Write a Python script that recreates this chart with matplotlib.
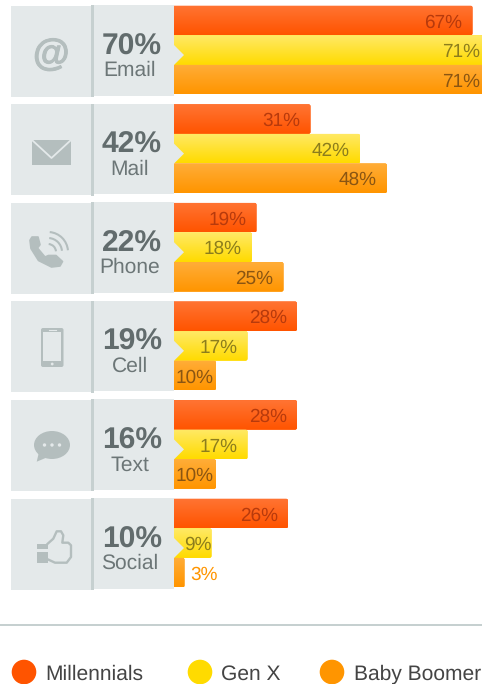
#!/usr/bin/env python
from matplotlib import pyplot as plt
from matplotlib import patheffects
from matplotlib.colors import LinearSegmentedColormap
from matplotlib.patches import Arc, Circle, Ellipse, FancyBboxPatch, Polygon, Rectangle
import numpy as np

plt.rcParams['font.family'] = ['Liberation Sans', 'DejaVu Sans']
plt.rcParams['text.hinting'] = 'no_hinting'
plt.rcParams['text.hinting_factor'] = 1

channels = ['Email', 'Mail', 'Phone', 'Cell', 'Text', 'Social']
totals = [70, 42, 22, 19, 16, 10]
millennials = [67, 31, 19, 28, 28, 26]
gen_x = [71, 42, 18, 17, 17, 9]
boomers = [71, 48, 25, 10, 10, 3]
series_names = ['Millennials', 'Gen X', 'Baby Boomer']

reds = ('#ff7433', '#ff5400')
yellows = ('#ffe966', '#ffdb00')
oranges = ('#ffad38', '#ff9500')
label_colors = ['#b73a0c', '#8c7d1c', '#8a5512']

PANEL = '#e4e9ea'
RULE = '#c6d0d0'
ICON = '#b4bebe'
ROW = 98.6
BAR_H = 0.3

W, H = 482, 684
fig = plt.figure(figsize=(W / 100, H / 100), dpi=100, facecolor='white')


def px_axes(left, width, zorder):
	a = fig.add_axes([left / W, 0, width / W, 1], zorder=zorder)
	a.axis('off')
	return a


# bars: 4.5 px per percent, zero sits just behind the panel edge
bar_ax = px_axes(174, 308, 1)
over = px_axes(0, W, 2)
over.patch.set_alpha(0)
over.set_xlim(0, W)
over.set_ylim(H, 0)
over.set_aspect('auto')

xlim = ((174 - 171) / 4.5, (482 - 171) / 4.5)
ylim = ((H - 5.7) / ROW, -5.7 / ROW)
ry = 2 / ROW
rx = 2 / 4.5

for j, (vals, cols) in enumerate(zip([millennials, gen_x, boomers], [reds, yellows, oranges])):
	ys = np.arange(len(channels)) + j * BAR_H
	bars = bar_ax.barh(ys, vals, height=BAR_H, align='edge', color=cols[1], linewidth=0)
	cmap = LinearSegmentedColormap.from_list('g', cols)
	for bar, v, y in zip(bars, vals, ys):
		clip = FancyBboxPatch((-2, y), v + 2, BAR_H, boxstyle='round,pad=0,rounding_size=%f' % rx,
							mutation_aspect=ry / rx, transform=bar_ax.transData)
		bar.set_clip_path(clip)
		im = bar_ax.imshow(np.linspace(0, 1, 32).reshape(-1, 1), cmap=cmap, aspect='auto', zorder=2,
						extent=(0, v, y + BAR_H, y), interpolation='bilinear')
		im.set_clip_path(clip)
		# labels sit 10 px inside the bar end unless the bar is too short
		color = label_colors[j]
		if v <= 3:
			anchor, off, color = 0.667, 16, oranges[1]
			ha = 'left'
		elif v <= 9:
			anchor, off, ha = v, 0, 'right'
		elif v <= 10:
			anchor, off, ha = v, -2, 'right'
		else:
			anchor, off, ha = v, -10, 'right'
		bar_ax.annotate('%d%%' % v, (anchor, y + BAR_H / 2), xytext=(off, -7), textcoords='offset pixels',
						ha=ha, va='baseline', fontsize=14, color=color, zorder=5, annotation_clip=False)
bar_ax.set_xlim(*xlim)
bar_ax.set_ylim(*ylim)

# panels, divider and the notch into the yellow bar
for i, (name, total) in enumerate(zip(channels, totals)):
	top = 5 + ROW * i
	over.add_patch(Rectangle((11, top + 0.5), 80, 91, fc=PANEL, ec='none'))
	over.add_patch(Rectangle((94, top), 80, 90.5, fc=PANEL, ec='none'))
	over.add_patch(Rectangle((91, top), 3, 92, fc=RULE, ec='none'))
	over.add_patch(Polygon([(174, top + 40), (184, top + 50), (174, top + 60)], fc=PANEL, ec='none'))
	over.text(132, top + 49.3, '%d%%' % total, ha='center', va='baseline', fontsize=21.5, fontweight='bold', color='#626c6d')
	over.text(130, top + 71, name, ha='center', va='baseline', fontsize=14.8, color='#6c7677')

# icons
over.text(51.5, 65, '@', ha='center', va='baseline', fontsize=27, fontweight='bold', color=ICON,
		path_effects=[patheffects.withStroke(linewidth=0.7, foreground=ICON)])

over.add_patch(Rectangle((32, 140), 39, 25, fc=ICON, ec='none'))
over.plot([32, 51.5, 71], [140, 158, 140], color=PANEL, lw=1.3)

handset = [(30, 240.3), (32, 237), (38, 237), (40, 244.7), (37.5, 248), (45, 257), (48.5, 255.5), (56, 255.5),
		(62.5, 261.5), (60, 266), (51.5, 267), (38.5, 260.5), (31, 248.5)]
over.add_patch(Polygon(handset, fc=ICON, ec=ICON, lw=1.2, joinstyle='round'))
for r in [8, 14, 20]:
	over.add_patch(Arc((48, 252), 2 * r, 2 * r, theta1=275, theta2=355, color=ICON, lw=1.5))

over.add_patch(FancyBboxPatch((41, 328), 22.5, 39, boxstyle='round,pad=0,rounding_size=2', fc=ICON, ec='none'))
over.add_patch(Rectangle((43.2, 332), 18, 29, fc=PANEL, ec='none'))
over.add_patch(Circle((52.2, 364), 1.4, fc=PANEL, ec='none'))
over.plot([49, 55.5], [330, 330], color=PANEL, lw=0.8)

over.add_patch(Ellipse((52, 445), 36, 28, fc=ICON, ec='none'))
over.add_patch(Polygon([(39, 452), (36.7, 461.7), (48, 457)], fc=ICON, ec='none'))
for dx in [44.5, 52, 59.5]:
	over.add_patch(Circle((dx, 445), 1.7, fc=PANEL, ec='none'))

over.add_patch(Rectangle((37.3, 544), 10.4, 5.3, fc=ICON, ec='none'))
over.add_patch(Rectangle((37.3, 551.7), 10.4, 11, fc=ICON, ec='none'))
thumb = [(47.7, 543.7), (53.3, 538.7), (56.7, 531.3), (61, 531.3), (63.3, 535.3), (62.3, 542.7), (68.3, 542.7),
		(71, 545.3), (71, 557), (66.7, 562.7), (55, 562.7), (47.7, 559.3)]
over.plot([p[0] for p in thumb], [p[1] for p in thumb], color=ICON, lw=1.7, solid_joinstyle='round')

# legend strip
over.add_patch(Rectangle((0, 624), W, 2.4, fc=RULE, ec='none'))
for name, col, cx, tx in zip(series_names, [reds[1], yellows[1], oranges[1]], [24, 200, 332], [45, 221, 354]):
	over.add_patch(Circle((cx, 672), 12.3, fc=col, ec='none'))
	over.text(tx, 680, name, ha='left', va='baseline', fontsize=15.2, color='#444444', clip_on=True)

fig.savefig('out.png', dpi=100)
